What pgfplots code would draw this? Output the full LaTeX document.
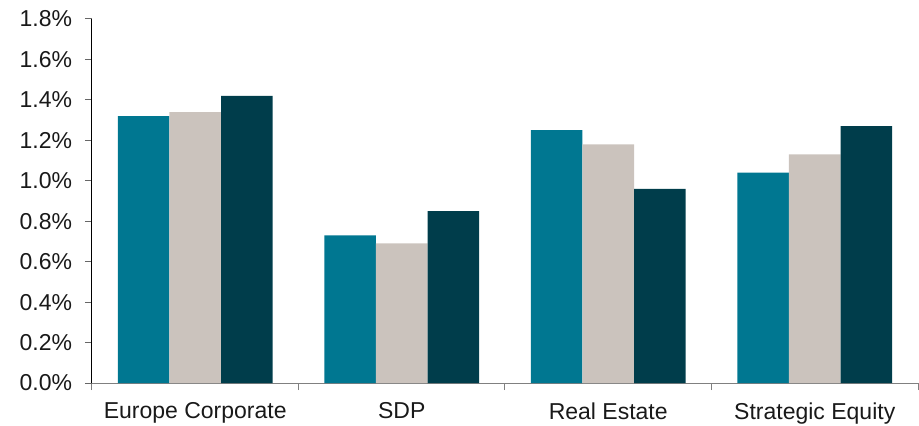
\documentclass[border=0pt]{standalone}
\usepackage{pgfplots}
\pgfplotsset{compat=1.18}
\usepackage{fontspec}
\setmainfont{Liberation Sans}
\definecolor{cTeal}{HTML}{007791}
\definecolor{cGray}{HTML}{CBC3BD}
\definecolor{cDark}{HTML}{003D4B}
\begin{document}
\fontsize{23pt}{27pt}\selectfont
\begin{tikzpicture}
\path[use as bounding box] (-92pt,-43pt) rectangle (827pt,383pt);
\begin{axis}[
  at={(0,0)}, anchor=south west,
  scale only axis, width=826pt, height=364pt,
  xmin=-0.5, xmax=3.5, ymin=0, ymax=1.8,
  ybar=0pt, bar width=51.6pt,
  axis x line*=bottom, axis y line*=left,
  x axis line style={draw=black!50, line width=1pt},
  y axis line style={draw=black, line width=1pt},
  xtick={0,1,2,3},
  xticklabels={Europe Corporate, SDP, Real Estate, Strategic Equity},
  major x tick style={draw=none},
  minor xtick={-0.5,0.5,1.5,2.5,3.5},
  minor x tick style={draw=black!50, line width=1pt},
  minor tick length=7pt,
  ytick={0,0.2,...,1.8},
  major y tick style={draw=black!60, line width=1pt},
  major tick length=7pt,
  tick align=outside,
  yticklabel={\pgfmathprintnumber[fixed,fixed zerofill,precision=1]{\tick}\%},
  /pgf/number format/assume math mode=true,
  ticklabel style={font=\fontsize{23pt}{27pt}\selectfont, text=black!90},
  yticklabel style={xshift=-5pt},
  xticklabel style={yshift=-5pt},
  enlarge x limits=false,
  clip=false,
]
\addplot[fill=cTeal, draw=none] coordinates {(0,1.32) (1,0.73) (2,1.25) (3,1.04)};
\addplot[fill=cGray, draw=none] coordinates {(0,1.34) (1,0.69) (2,1.18) (3,1.13)};
\addplot[fill=cDark, draw=none] coordinates {(0,1.42) (1,0.85) (2,0.96) (3,1.27)};
\end{axis}
\end{tikzpicture}
\end{document}
